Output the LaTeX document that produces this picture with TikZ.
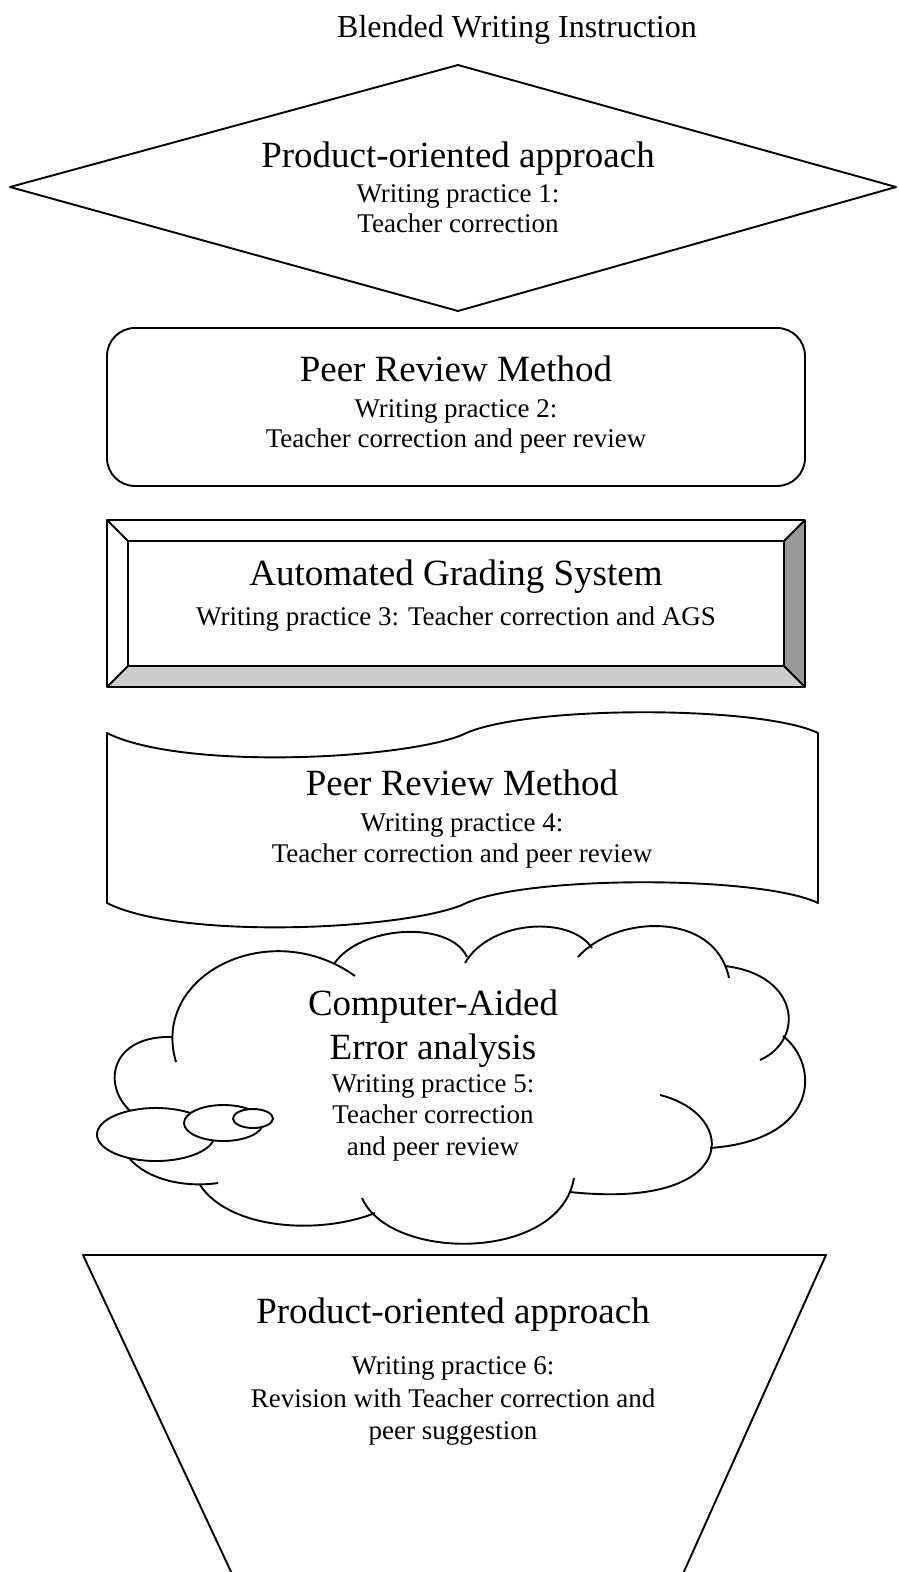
\documentclass[tikz,border=0pt]{standalone}
\usepackage{fontspec}
\setmainfont{Liberation Serif}
\tikzset{
  shp/.style={draw=black, line width=1.9pt, line join=round},
  bigtxt/.style={font=\fontsize{37}{42}\selectfont, anchor=base, inner sep=0pt},
  smalltxt/.style={font=\fontsize{27}{31}\selectfont, anchor=base, inner sep=0pt},
  ttltxt/.style={font=\fontsize{32}{37}\selectfont, anchor=base, inner sep=0pt},
  bubble/.style={shp, fill=white}
}
\begin{document}
\begin{tikzpicture}[x=1pt,y=-1pt]
\useasboundingbox (0,0) rectangle (898,1572);

% title
\node[ttltxt] (title) at (517,37) {Blended Writing Instruction};

% diamond
\draw[shp] (10,187) -- (458,65) -- (896,187) -- (458,311) -- cycle;
\node[bigtxt] (d1) at (458,167) {Product-oriented approach};
\node[smalltxt] (d2) at (458,202) {Writing practice 1:};
\node[smalltxt] (d3) at (458,232) {Teacher correction};

% rounded rectangle
\draw[shp, rounded corners=28pt] (107,328) rectangle (805,486);
\node[bigtxt] (r1) at (456,381) {Peer Review Method};
\node[smalltxt] (r2) at (456,417) {Writing practice 2:};
\node[smalltxt] (r3) at (456,447) {Teacher correction and peer review};

% bevel box
\fill[black!40] (805,520) -- (805,687) -- (784,666) -- (784,541) -- cycle;
\fill[black!20] (107,687) -- (805,687) -- (784,666) -- (128,666) -- cycle;
\draw[shp] (107,520) rectangle (805,687);
\draw[shp] (128,541) rectangle (784,666);
\draw[shp] (107,520) -- (128,541);
\draw[shp] (805,520) -- (784,541);
\draw[shp] (107,687) -- (128,666);
\draw[shp] (805,687) -- (784,666);
\node[bigtxt] (b1) at (456,585) {Automated Grading System};
\node[smalltxt] (b2) at (456,625) {Writing practice 3: Teacher correction and AGS};

% wave
\draw[shp] (107,733) .. controls (180,770) and (400,760) .. (462,735)
  .. controls (520,705) and (760,705) .. (818,733) -- (818,903)
  .. controls (760,875) and (520,875) .. (462,905)
  .. controls (400,930) and (180,940) .. (107,903) -- cycle;
\node[bigtxt] (w1) at (462,795) {Peer Review Method};
\node[smalltxt] (w2) at (462,831) {Writing practice 4:};
\node[smalltxt] (w3) at (462,862) {Teacher correction and peer review};

% cloud
\draw[shp] (176,1062) .. controls (150,975) and (270,915) .. (355,976);
\draw[shp] (334,964) .. controls (360,925) and (450,920) .. (467,957);
\draw[shp] (465,963) .. controls (490,920) and (570,915) .. (592,948);
\draw[shp] (578,957) .. controls (615,915) and (715,910) .. (729,978);
\draw[shp] (725,966) .. controls (800,975) and (805,1040) .. (760,1060);
\draw[shp] (783,1036) .. controls (820,1065) and (820,1140) .. (710,1148);
\draw[shp] (660,1095) .. controls (740,1115) and (740,1210) .. (570,1192);
\draw[shp] (574,1178) .. controls (560,1262) and (390,1262) .. (362,1198);
\draw[shp] (200,1185) .. controls (230,1230) and (320,1235) .. (375,1213);
\draw[shp] (118,1128) .. controls (118,1170) and (170,1190) .. (218,1183);
\draw[shp] (140,1118) .. controls (100,1095) and (105,1035) .. (172,1037);
\draw[bubble] (156,1134.5) ellipse [x radius=59, y radius=26.5];
\draw[bubble] (223.5,1123) ellipse [x radius=39.5, y radius=18];
\draw[bubble] (253,1118.5) ellipse [x radius=20, y radius=9.5];
\node[bigtxt] (c1) at (433,1015) {Computer-Aided};
\node[bigtxt] (c2) at (433,1059) {Error analysis};
\node[smalltxt] (c3) at (433,1092) {Writing practice 5:};
\node[smalltxt] (c4) at (433,1123) {Teacher correction};
\node[smalltxt] (c5) at (433,1155) {and peer review};

% inverted trapezoid
\draw[shp] (233,1576) -- (83,1255) -- (826,1255) -- (682,1576);
\node[bigtxt] (t1) at (453,1323) {Product-oriented approach};
\node[smalltxt] (t2) at (453,1374) {Writing practice 6:};
\node[smalltxt] (t3) at (453,1407) {Revision with Teacher correction and};
\node[smalltxt] (t4) at (453,1439) {peer suggestion};
\end{tikzpicture}
\end{document}
